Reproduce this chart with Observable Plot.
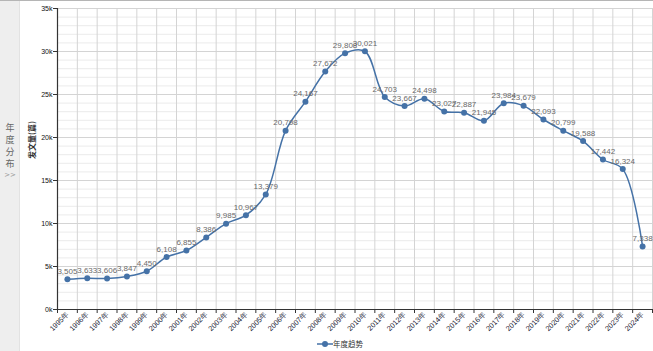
<!DOCTYPE html>
<html><head><meta charset="utf-8">
<script src="https://cdn.jsdelivr.net/npm/d3@7"></script>
<script src="https://cdn.jsdelivr.net/npm/@observablehq/plot@0.6"></script>
<style>
body{margin:0;background:#fff;font-family:"Liberation Sans","Noto Sans CJK SC",sans-serif;}
#wrap{position:relative;width:653px;height:351px;overflow:hidden;}
#topline{position:absolute;left:0;top:0;width:653px;height:1px;background:#b5b5b5;}
#side{position:absolute;left:0;top:0;width:20px;height:351px;background:#eeeeee;border-right:1px solid #e2e2e2;box-sizing:border-box;}
#side svg{position:absolute;left:0;top:0;}
#chart{position:absolute;left:0;top:0;}
#legend{position:absolute;left:0;top:336px;width:653px;height:14px;font-size:7.5px;color:#333;font-family:"Noto Sans CJK SC",sans-serif;}
#legend svg{position:absolute;left:317px;top:4px;}
#legend span{position:absolute;left:333px;top:2px;line-height:11px;}
</style></head>
<body>
<div id="wrap">
  <div id="chart"></div>
  <div id="side">
    <svg width="20" height="351" font-family="Noto Sans CJK SC, sans-serif" font-size="9" fill="#666" text-anchor="middle">
      <text x="10" y="131">年</text>
      <text x="10" y="143">度</text>
      <text x="10" y="155">分</text>
      <text x="10" y="167">布</text>
      <text x="10" y="177" font-size="7" fill="#999" font-family="DejaVu Sans, sans-serif">&gt;&gt;</text>
    </svg>
  </div>
  <div id="topline"></div>
  <div id="legend"><svg width="16" height="8"><line x1="0" y1="4" x2="16" y2="4" stroke="#4572A7" stroke-width="1.5"/><circle cx="8" cy="4" r="3" fill="#4572A7"/></svg><span>年度趋势</span></div>
</div>
<script>
const years = ["1995年","1996年","1997年","1998年","1999年","2000年","2001年","2002年","2003年","2004年","2005年","2006年","2007年","2008年","2009年","2010年","2011年","2012年","2013年","2014年","2015年","2016年","2017年","2018年","2019年","2020年","2021年","2022年","2023年","2024年"];
const counts = [3505,3633,3606,3847,4450,6108,6855,8386,9985,10967,13379,20798,24167,27672,29808,30021,24703,23667,24498,23027,22887,21945,23984,23679,22093,20799,19588,17442,16324,7338];
const yTicks = [0,5000,10000,15000,20000,25000,30000,35000];
const yMinor = d3.range(0, 35001, 1000);
const seriesName = "年度趋势";
const yLabel = "发文量(篇)";

const data = years.map((y, i) => ({idx: i + 0.5, year: y, v: counts[i]}));
const bounds = d3.range(0, years.length + 1);
const fmt = d3.format(",");

const chart = Plot.plot({
  width: 653, height: 336,
  marginLeft: 57, marginRight: 1, marginTop: 8, marginBottom: 27,
  style: {background: "transparent", fontFamily: "Liberation Sans, sans-serif"},
  x: {type: "linear", domain: [0, years.length], axis: null},
  y: {domain: [0, 35000], axis: null},
  marks: [
    Plot.ruleY(yMinor, {stroke: "#ebebeb", strokeWidth: 1}),
    Plot.ruleY(yTicks, {stroke: "#d4d4d4", strokeWidth: 1}),
    Plot.ruleX(bounds, {stroke: "#d4d4d4", strokeWidth: 1}),
    Plot.axisY(yTicks, {tickFormat: d => d / 1000 + "k", tickSize: 4, tickPadding: 1, fontSize: 7, color: "#111", label: null, stroke: "#333"}),
    Plot.axisX(bounds, {tickFormat: () => "", tickSize: 4, stroke: "#333", label: null}),
    Plot.axisX(data.map(d => d.idx), {tickFormat: d => years[Math.floor(d)], tickSize: 0, tickPadding: 4, tickRotate: -45, fontSize: 7.3, color: "#223", label: null}),
    Plot.ruleX([0], {stroke: "#333", strokeWidth: 1.2}),
    Plot.ruleY([0], {stroke: "#333", strokeWidth: 1.2}),
    Plot.text([yLabel], {frameAnchor: "left", rotate: -90, dx: -25, fontSize: 8, fontWeight: "bold", fill: "#333", fontFamily: "Noto Sans CJK SC, sans-serif"}),
    Plot.line(data, {x: "idx", y: "v", curve: "catmull-rom", stroke: "#4572A7", strokeWidth: 1.5}),
    Plot.dot(data, {x: "idx", y: "v", r: 3, fill: "#4572A7", stroke: "none"}),
    Plot.text(data, {x: "idx", y: "v", text: d => fmt(d.v), dy: -8, fill: "#6a6a6a", fontSize: 8})
  ]
});
document.getElementById("chart").appendChild(chart);
</script>
</body></html>
